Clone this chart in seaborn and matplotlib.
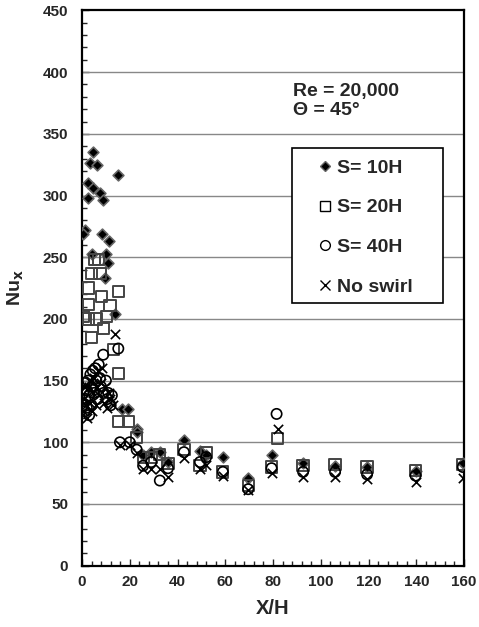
import numpy as np
import pandas as pd
import matplotlib
matplotlib.use('Agg')
import matplotlib.pyplot as plt
from matplotlib.lines import Line2D
from matplotlib.patches import Rectangle
from matplotlib.ticker import MultipleLocator
import seaborn as sns

sns.set_style('white')
plt.rcParams['font.family'] = ['Liberation Sans', 'DejaVu Sans']
plt.rcParams['font.weight'] = 'bold'

# ---- data (X/H, Nu_x) ----
s10_x = [4.5, 3.3, 6.1, 15.2, 2.6, 4.7, 7.5, 8.9, 2.6, 1.3, 0.5, 8.2, 11.4, 4.0, 10.0,
         10.7, 9.6, 13.8, 16.6, 19.4, 22.9, 22.9, 25.6, 29.0, 32.6, 36.0, 42.7, 49.4,
         52.0, 59.0, 69.6, 79.4, 92.6, 106.0, 119.4, 139.7, 159.5]
s10_y = [335, 326, 325, 317, 310, 306, 302, 296, 298, 272, 269, 269, 263, 253, 253,
         245, 233, 204, 127, 127, 111, 108, 90, 92, 92, 84, 102, 93,
         90, 88, 71, 90, 83, 81, 80, 77, 83]

s20_x = [5.4, 6.8, 4.0, 7.5, 2.6, 15.2, 2.6, 8.2, 11.7, 0.5, 2.6, 6.1, 10.3, 8.9, 4.0,
         13.1, 15.2, 15.2, 19.4, 22.9, 25.6, 29.0, 32.6, 36.0, 42.7, 49.4, 52.0, 59.0,
         69.6, 79.4, 82.0, 92.6, 106.0, 119.4, 139.7, 159.5]
s20_y = [248, 248, 237, 237, 225, 222, 212, 218, 211, 202, 200, 200, 202, 192, 185,
         175, 156, 117, 117, 104, 88, 88, 90, 83, 94, 81, 92, 76,
         65, 80, 103, 81, 82, 80, 77, 82]

s40_x = [0.5, 0.5, 1.0, 1.0, 1.5, 2.0, 2.0, 2.5, 3.0, 3.0, 3.5, 4.0, 4.0, 4.5, 5.0,
         5.5, 6.0, 6.5, 7.0, 7.5, 8.0, 8.9, 9.0, 10.0, 10.5, 11.0, 12.0, 12.5, 15.2,
         15.9, 20.0, 22.9, 25.6, 29.0, 32.6, 36.0, 42.7, 49.4, 52.0, 59.0, 69.6, 79.4,
         81.5, 92.6, 106.0, 119.4, 139.7, 159.5]
s40_y = [130, 140, 125, 148, 135, 142, 128, 150, 138, 122, 155, 145, 130, 158, 140,
         160, 150, 135, 163, 152, 145, 171, 140, 150, 135, 140, 130, 138, 176,
         100, 100, 94, 81, 84, 69, 79, 92, 84, 88, 76, 62, 79,
         123, 76, 76, 74, 73, 80]

ns_x = [0.3, 0.8, 1.2, 1.8, 2.2, 2.8, 3.2, 3.8, 4.2, 4.8, 5.2, 5.8, 6.2, 6.8, 7.2,
        7.8, 8.5, 9.2, 9.8, 10.5, 11.2, 11.8, 12.8, 13.8, 16.0, 20.0, 22.9, 25.6,
        29.0, 32.6, 36.0, 42.7, 49.4, 52.0, 59.0, 69.6, 79.4, 82.0, 92.6, 106.0,
        119.4, 139.7, 159.5]
ns_y = [125, 135, 145, 130, 120, 145, 132, 150, 125, 140, 152, 130, 145, 158, 138,
        148, 160, 132, 145, 128, 140, 135, 130, 188, 98, 98, 91, 78,
        78, 78, 72, 87, 78, 82, 73, 61, 75, 111, 72, 72,
        70, 68, 71]

labels = ['S= 10H', 'S= 20H', 'S= 40H', 'No swirl']

fig = plt.figure(figsize=(4.79, 6.27), dpi=100)
ax = fig.add_axes([0.1712, 0.0978, 0.7975, 0.8855])

df10 = pd.DataFrame({'x': s10_x, 'y': s10_y})
df20 = pd.DataFrame({'x': s20_x, 'y': s20_y})
df40 = pd.DataFrame({'x': s40_x, 'y': s40_y})
dfns = pd.DataFrame({'x': ns_x, 'y': ns_y})

sns.scatterplot(data=df10, x='x', y='y', ax=ax, marker='D', s=30,
                color='black', edgecolor='#666666', linewidth=1.2, zorder=3)
sns.scatterplot(data=df20, x='x', y='y', ax=ax, marker='s', s=65,
                facecolor='none', edgecolor='#444444', linewidth=1.4, zorder=4)
sns.scatterplot(data=df40, x='x', y='y', ax=ax, marker='o', s=55,
                facecolor='none', edgecolor='black', linewidth=1.2, zorder=5)
sns.scatterplot(data=dfns, x='x', y='y', ax=ax, marker='x', s=45,
                color='black', linewidth=1.2, zorder=6)

ax.set_xlim(0, 160)
ax.set_ylim(0, 450)
ax.xaxis.set_major_locator(MultipleLocator(20))
ax.xaxis.set_minor_locator(MultipleLocator(4))
ax.yaxis.set_major_locator(MultipleLocator(50))
ax.yaxis.set_minor_locator(MultipleLocator(10))
ax.tick_params(which='both', direction='in', bottom=True, left=True, top=False, right=False)
ax.tick_params(which='major', length=5, width=1)
ax.tick_params(which='minor', length=3.5, width=1)
ax.tick_params(axis='y', pad=10, labelsize=11)
ax.tick_params(axis='x', pad=7, labelsize=11)
for lbl in ax.get_xticklabels() + ax.get_yticklabels():
    lbl.set_fontweight('bold')

for yv in range(50, 450, 50):
    ax.axhline(yv, color='#888888', lw=1, zorder=1)

for sp in ax.spines.values():
    sp.set_color('black')
    sp.set_linewidth(1.6)

ax.set_xlabel('X/H', fontsize=14.5, fontweight='bold', labelpad=7)
ax.set_ylabel('Nu$_\\mathbf{x}$', fontsize=14, fontweight='bold', labelpad=12)

ax.text(0.552, 0.854, 'Re = 20,000', transform=ax.transAxes, fontsize=14,
        fontweight='bold', va='center', ha='left')
ax.text(0.552, 0.8195, '\u0398 = 45\u00b0', transform=ax.transAxes, fontsize=14,
        fontweight='bold', va='center', ha='left')

# legend box (drawn separately so its size matches the original)
ax.add_patch(Rectangle((0.5497, 0.4732), 0.3953, 0.2791, transform=ax.transAxes,
                       facecolor='white', edgecolor='black', lw=1.2, zorder=9))

handles = [
    Line2D([], [], ls='none', marker='D', ms=5, color='black', mec='#666666'),
    Line2D([], [], ls='none', marker='s', ms=7, mfc='none', mec='black'),
    Line2D([], [], ls='none', marker='o', ms=7, mfc='none', mec='black'),
    Line2D([], [], ls='none', marker='x', ms=6.5, color='black'),
]
leg = ax.legend(handles, labels, loc='upper left', bbox_to_anchor=(0.6107, 0.7325),
                frameon=False, prop={'weight': 'bold', 'size': 14}, labelspacing=1.14,
                handletextpad=0.1, handlelength=1.0, borderpad=0,
                borderaxespad=0)
leg.set_zorder(10)

fig.savefig('out.png', dpi=100)
